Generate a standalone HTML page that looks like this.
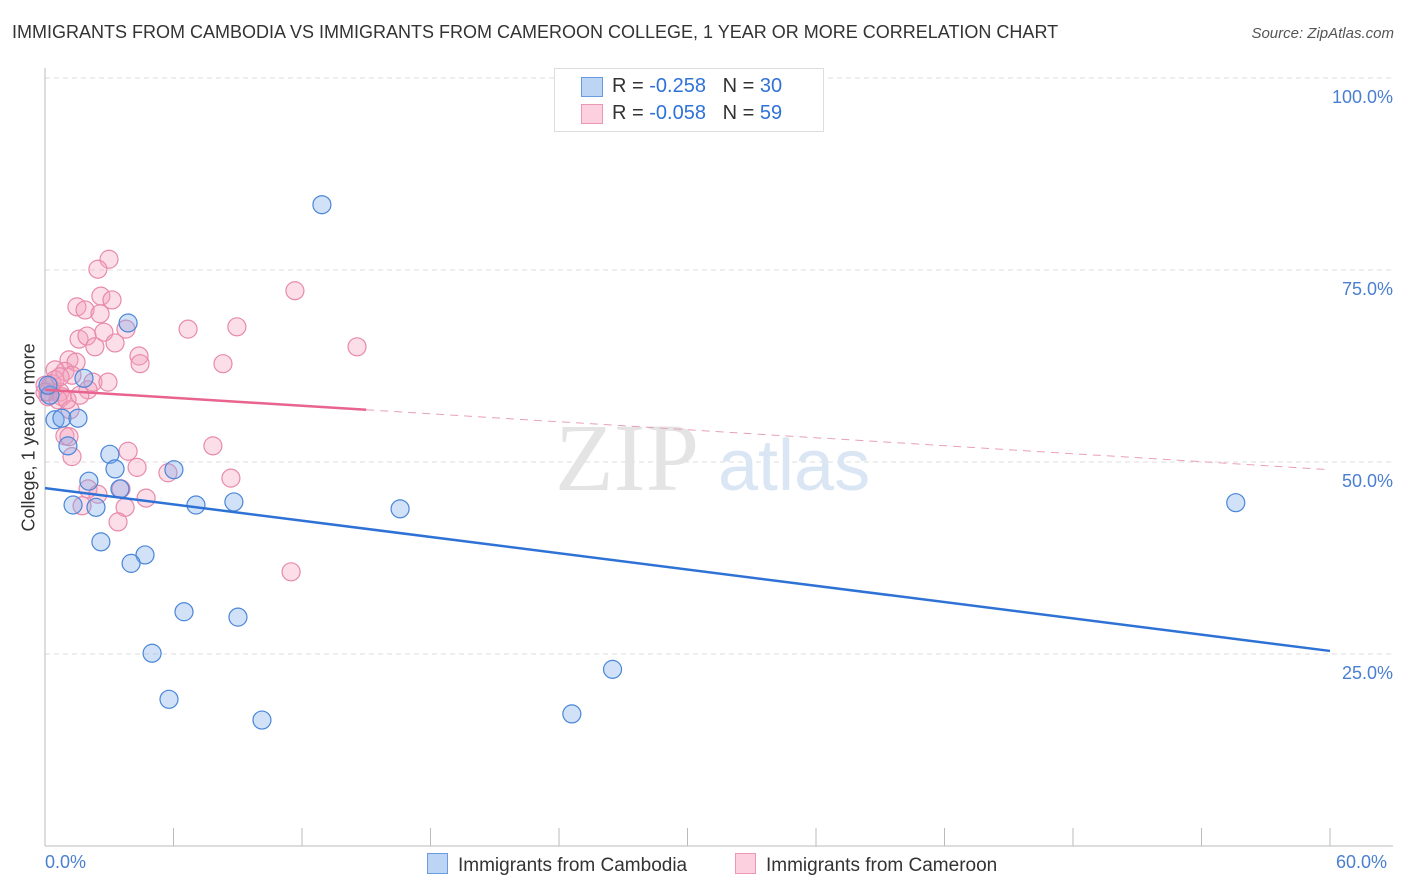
<!DOCTYPE html>
<html><head><meta charset="utf-8"><style>
body{margin:0;background:#fff;font-family:"Liberation Sans",sans-serif;}
#wrap{position:relative;width:1406px;height:892px;overflow:hidden;}
.t{position:absolute;white-space:nowrap;}
</style></head><body>
<div id="wrap">
<div class="t" style="left:12px;top:22px;font-size:18px;color:#333;">IMMIGRANTS FROM CAMBODIA VS IMMIGRANTS FROM CAMEROON COLLEGE, 1 YEAR OR MORE CORRELATION CHART</div>
<div class="t" style="right:12px;top:25px;font-size:15px;color:#555;font-style:italic;">Source: ZipAtlas.com</div>
<svg id="svg" width="1406" height="892" style="position:absolute;left:0;top:0;"></svg>
</div>
<script>
const blueX=[12.93,3.88,1.82,0.47,0.79,1.54,1.07,3.03,3.27,6.02,2.05,3.50,1.31,2.38,7.05,8.82,16.58,55.6,2.61,4.67,4.02,6.49,9.01,5.0,5.79,10.13,24.6,26.5,0.23,0.14];
const blueY=[83.5,68.1,60.9,55.5,55.7,55.7,52.1,51.0,49.1,49.0,47.5,46.5,44.4,44.1,44.4,44.8,43.9,44.7,39.6,37.9,36.8,30.5,29.8,25.1,19.1,16.4,17.2,23.0,58.7,60.0];
const pinkX=[2.99,2.47,2.61,3.13,1.49,1.87,2.57,11.67,1.59,1.96,3.78,2.75,3.27,2.33,6.68,8.96,4.39,4.44,8.31,14.57,1.12,1.45,0.47,0.93,1.26,2.24,2.01,0.23,0.14,0.70,0.14,0.79,0.33,0.93,1.12,3.88,7.84,1.26,4.30,5.74,8.68,2.01,3.55,2.47,4.72,1.73,3.74,3.41,11.49,0.47,0.0,0.61,1.17,2.94,0.0,1.03,1.63,0.70];
const pinkY=[76.4,75.1,71.6,71.1,70.2,69.8,69.3,72.3,66.0,66.4,67.3,66.9,65.5,65.0,67.3,67.6,63.8,62.8,62.8,65.0,63.3,63.0,62.0,61.8,61.3,60.4,59.4,59.9,59.1,59.1,58.5,58.5,60.2,53.4,53.3,51.4,52.1,50.7,49.3,48.6,47.9,46.5,46.5,45.8,45.3,44.3,44.1,42.2,35.7,60.7,60.0,58.1,56.8,60.4,59.1,58.1,58.7,61.1];
const yTicks=[25,50,75,100];
const yTickLabels=["25.0%","50.0%","75.0%","100.0%"];
const xTicks=[0,6,12,18,24,30,36,42,48,54,60];
const blueTrend=[46.6,25.4];
const pinkTrend=[59.4,49.0];
const pinkSolidEnd=15.0;
const NS="http://www.w3.org/2000/svg";
const svg=document.getElementById('svg');
const X=v=>45+v/60*1285;
const Y=v=>846-v/100*768;
function mk(tag,attrs,parent){const e=document.createElementNS(NS,tag);for(const k in attrs)e.setAttribute(k,attrs[k]);(parent||svg).appendChild(e);return e;}
// grid
yTicks.forEach((t,i)=>{
 const g=mk('line',{x1:45,x2:1393,y1:Y(t),y2:Y(t),stroke:'#ddd','stroke-dasharray':'5,4','stroke-width':1});
 
 
 const tx=mk('text',{x:1393,y:Y(t)+25,'text-anchor':'end','font-size':18,fill:'#4a7fd0','font-family':'Liberation Sans, sans-serif'});
 tx.textContent=yTickLabels[i];
 
 
});
// axes
const ya=mk('line',{x1:45,x2:45,y1:68,y2:846,stroke:'#bbb'});


const xa=mk('line',{x1:45,x2:1393,y1:846,y2:846,stroke:'#bbb'});


xTicks.forEach(t=>{
 const l=mk('line',{x1:X(t),x2:X(t),y1:828,y2:846,stroke:'#bbb'});
 
 
});
// watermark
const wm=mk('text',{x:555,y:490,'font-size':96,fill:'#e4e4e4','font-family':'Liberation Serif, serif'});wm.textContent='ZIP';


const wm2=mk('text',{x:718,y:490,'font-size':72,fill:'#dbe6f5','font-family':'Liberation Sans, sans-serif'});wm2.textContent='atlas';


// points
pinkX.forEach((v,i)=>{
 const c=mk('circle',{cx:X(v),cy:Y(pinkY[i]),r:9,fill:'rgba(244,160,188,0.35)',stroke:'#e88aaa','stroke-width':1.2});
 
 
});
blueX.forEach((v,i)=>{
 const c=mk('circle',{cx:X(v),cy:Y(blueY[i]),r:9,fill:'rgba(120,170,235,0.35)',stroke:'#4a86d8','stroke-width':1.2});
 
 
});
// trends
const bt=mk('line',{x1:X(0),y1:Y(blueTrend[0]),x2:X(60),y2:Y(blueTrend[1]),stroke:'#2f72d6','stroke-width':2.5});


const pAt=x=>pinkTrend[0]+(pinkTrend[1]-pinkTrend[0])*x/60;
const ps=mk('line',{x1:X(0),y1:Y(pinkTrend[0]),x2:X(pinkSolidEnd),y2:Y(pAt(pinkSolidEnd)),stroke:'#e8648e','stroke-width':2.5});


const pd=mk('line',{x1:X(pinkSolidEnd),y1:Y(pAt(pinkSolidEnd)),x2:X(60),y2:Y(pinkTrend[1]),stroke:'#e8a0b8','stroke-width':1,'stroke-dasharray':'8,6'});


</script>
<div class="t" style="left:-46px;top:446px;font-size:18px;color:#333;transform:rotate(-90deg);transform-origin:center;width:150px;text-align:center;">College, 1 year or more</div>
<div class="t" style="left:45px;top:852px;font-size:18px;color:#4a7fd0;">0.0%</div>
<div class="t" style="left:1336px;top:852px;font-size:18px;color:#4a7fd0;">60.0%</div>
<div style="position:absolute;left:554px;top:68px;width:268px;height:62px;border:1px solid #ddd;background:#fff;font-size:20px;">
 <div style="position:absolute;left:26px;top:8px;width:20px;height:18px;background:#bcd5f5;border:1px solid #6a9ae0;"></div>
 <div class="t" style="left:57px;top:6px;color:#333;">R = <span style="color:#2f72d6">-0.258</span>&nbsp;&nbsp;&nbsp;N = <span style="color:#2f72d6">30</span></div>
 <div style="position:absolute;left:26px;top:35px;width:20px;height:18px;background:#fcd0de;border:1px solid #ec97b3;"></div>
 <div class="t" style="left:57px;top:33px;color:#333;">R = <span style="color:#2f72d6">-0.058</span>&nbsp;&nbsp;&nbsp;N = <span style="color:#2f72d6">59</span></div>
</div>
<div style="position:absolute;left:427px;top:853px;font-size:19px;color:#333;">
 <span style="display:inline-block;width:19px;height:19px;background:#bcd5f5;border:1px solid #6a9ae0;vertical-align:-3px;margin-right:10px;"></span>Immigrants from Cambodia</div>
<div style="position:absolute;left:735px;top:853px;font-size:19px;color:#333;">
 <span style="display:inline-block;width:19px;height:19px;background:#fcd0de;border:1px solid #ec97b3;vertical-align:-3px;margin-right:10px;"></span>Immigrants from Cameroon</div>
</body></html>
